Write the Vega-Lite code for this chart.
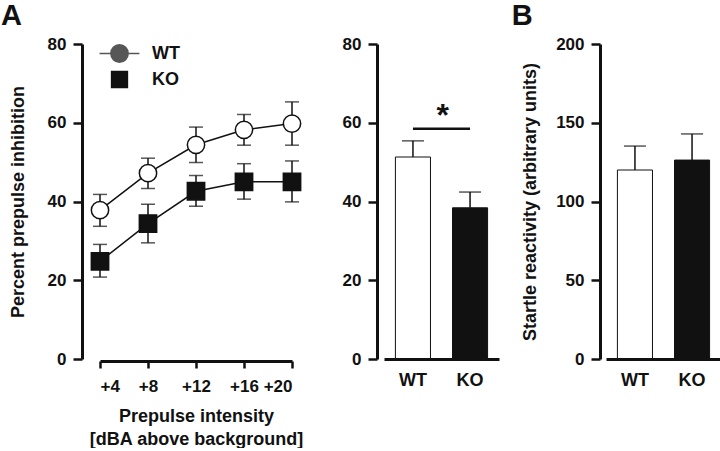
{
  "$schema": "https://vega.github.io/schema/vega-lite/v6.json",
  "background": "white",
  "padding": {"left": 1, "top": 2, "right": 0, "bottom": 0},
  "config": {
    "font": "Liberation Sans",
    "view": {"stroke": null},
    "axis": {
      "grid": false,
      "domainColor": "#111",
      "domainWidth": 3,
      "tickColor": "#111",
      "tickWidth": 2.5,
      "tickSize": 9,
      "labelFont": "Liberation Sans",
      "labelFontWeight": "bold",
      "labelFontSize": 17,
      "labelColor": "#111",
      "labelPadding": 7,
      "titleFont": "Liberation Sans",
      "titleFontWeight": "bold",
      "titleFontSize": 18,
      "titleColor": "#111"
    },
    "legend": {
      "title": null,
      "padding": 0,
      "symbolSize": 300,
      "symbolStrokeWidth": 1.5,
      "symbolStrokeColor": "#111",
      "rowPadding": 1,
      "labelOffset": 23,
      "labelFontSize": 18,
      "labelFontWeight": "bold",
      "labelColor": "#111",
      "labelFont": "Liberation Sans"
    },
    "title": {"font": "Liberation Sans", "fontWeight": "bold", "fontSize": 29, "color": "#111"}
  },
  "datasets": {
    "ppi": [
      {"group": "WT", "intensity": 4, "mean": 37.8, "lo": 33.7, "hi": 41.8},
      {"group": "WT", "intensity": 8, "mean": 47.2, "lo": 43.3, "hi": 51.0},
      {"group": "WT", "intensity": 12, "mean": 54.4, "lo": 49.9, "hi": 58.9},
      {"group": "WT", "intensity": 16, "mean": 58.2, "lo": 54.3, "hi": 62.1},
      {"group": "WT", "intensity": 20, "mean": 59.8, "lo": 54.3, "hi": 65.3},
      {"group": "KO", "intensity": 4, "mean": 24.8, "lo": 20.8, "hi": 29.1},
      {"group": "KO", "intensity": 8, "mean": 34.4, "lo": 29.5, "hi": 39.3},
      {"group": "KO", "intensity": 12, "mean": 42.6, "lo": 38.8, "hi": 46.6},
      {"group": "KO", "intensity": 16, "mean": 45.0, "lo": 40.6, "hi": 49.6},
      {"group": "KO", "intensity": 20, "mean": 45.0, "lo": 39.9, "hi": 50.3}
    ],
    "ppiMean": [
      {"group": "WT", "mean": 51.3, "hi": 55.4},
      {"group": "KO", "mean": 38.4, "hi": 42.4}
    ],
    "sig": [
      {"from": "WT", "to": "KO", "y": 58.5, "label": "*"}
    ],
    "startle": [
      {"group": "WT", "mean": 120.0, "hi": 135.2},
      {"group": "KO", "mean": 126.3, "hi": 142.9}
    ]
  },
  "bounds": "flush",
  "spacing": 92,
  "hconcat": [
    {
      "width": 192,
      "height": 315,
      "title": {"text": "A", "anchor": "start", "frame": "bounds", "dx": -8, "offset": 4},
      "data": {"name": "ppi"},
      "encoding": {
        "x": {
          "field": "intensity",
          "type": "quantitative",
          "scale": {"domain": [4, 20], "nice": false, "zero": false},
          "axis": {
            "values": [4, 8, 12, 16, 20],
            "labelExpr": "'+' + datum.value",
            "offset": 2,
            "tickSize": 7,
            "labelPadding": 10,
            "titlePadding": 13,
            "titleLineHeight": 23,
            "title": ["Prepulse intensity", "[dBA above background]"]
          }
        }
      },
      "layer": [
        {
          "mark": {
            "type": "errorbar",
            "ticks": {"size": 14, "thickness": 1.5, "color": "#111"},
            "rule": {"strokeWidth": 1.5, "color": "#111"}
          },
          "encoding": {
            "y": {
              "field": "lo",
              "type": "quantitative",
              "scale": {"domain": [0, 80], "nice": false},
              "axis": {"values": [0, 20, 40, 60, 80], "offset": 18, "title": "Percent prepulse inhibition", "titlePadding": 20}
            },
            "y2": {"field": "hi"}
          }
        },
        {
          "mark": {"type": "line", "color": "#111", "strokeWidth": 1.5},
          "encoding": {
            "y": {"field": "mean", "type": "quantitative"},
            "detail": {"field": "group"}
          }
        },
        {
          "mark": {"type": "point", "size": 300, "strokeWidth": 1.5},
          "encoding": {
            "y": {"field": "mean", "type": "quantitative"},
            "shape": {"condition": {"test": "datum.group === 'WT'", "value": "circle"}, "value": "square"},
            "fill": {"condition": {"test": "datum.group === 'WT'", "value": "white"}, "value": "#111"},
            "stroke": {
              "field": "group",
              "type": "nominal",
              "scale": {"domain": ["WT", "KO"], "range": ["#111", "#111"]},
              "legend": {
                "orient": "none",
                "legendX": 10,
                "legendY": 0,
                "values": ["WT"],
                "symbolType": "M-2.3,0L-1,0M-1,0C-1,-0.552,-0.552,-1,0,-1C0.552,-1,1,-0.552,1,0C1,0.552,0.552,1,0,1C-0.552,1,-1,0.552,-1,0ZM1,0L2.3,0",
                "symbolFillColor": "white",
                "encode": {"symbols": {"fill": {"value": "white"}, "fillOpacity": {"value": 1}}}
              }
            },
            "opacity": {
              "field": "group",
              "type": "nominal",
              "scale": {"domain": ["KO", "WT"], "range": [1, 1]},
              "legend": {
                "orient": "none",
                "legendX": 10,
                "legendY": 26,
                "values": ["KO"],
                "symbolType": "M-2.3,0L-1,0M-1,-1L1,-1L1,1L-1,1ZM1,0L2.3,0",
                "symbolFillColor": "#111",
                "encode": {"symbols": {"fill": {"value": "#111"}, "fillOpacity": {"value": 1}}}
              }
            }
          }
        }
      ]
    },
    {
      "bounds": "flush",
      "spacing": 107,
      "hconcat": [
        {
          "width": 115,
          "height": 315,
          "encoding": {
            "x": {
              "field": "group",
              "type": "nominal",
              "scale": {"domain": ["WT", "KO"], "paddingInner": 0.386, "paddingOuter": 0.2},
              "axis": {"title": null, "domain": true, "domainWidth": 3, "domainColor": "#111", "ticks": false, "labelAngle": 0, "labelFontSize": 18, "labelPadding": 12, "zindex": 1}
            }
          },
          "layer": [
            {
              "data": {"name": "ppiMean"},
              "mark": {"type": "bar", "stroke": "#111", "strokeWidth": 1},
              "encoding": {
                "y": {
                  "field": "mean",
                  "type": "quantitative",
                  "scale": {"domain": [0, 80], "nice": false},
                  "axis": {"values": [0, 20, 40, 60, 80], "offset": 7, "title": null}
                },
                "fill": {"condition": {"test": "datum.group === 'WT'", "value": "white"}, "value": "#111"}
              }
            },
            {
              "data": {"name": "ppiMean"},
              "mark": {"type": "rule", "strokeWidth": 1.5, "color": "#111"},
              "encoding": {
                "y": {"field": "mean", "type": "quantitative"},
                "y2": {"field": "hi"}
              }
            },
            {
              "data": {"name": "ppiMean"},
              "mark": {"type": "tick", "orient": "horizontal", "size": 22, "thickness": 1.5, "color": "#111"},
              "encoding": {
                "y": {"field": "hi", "type": "quantitative"}
              }
            },
            {
              "data": {"name": "sig"},
              "mark": {"type": "rule", "strokeWidth": 2.5, "color": "#111"},
              "encoding": {
                "x": {"field": "from", "type": "nominal"},
                "x2": {"field": "to"},
                "y": {"field": "y", "type": "quantitative"}
              }
            },
            {
              "data": {"name": "sig"},
              "mark": {"type": "text", "fontSize": 32, "fontWeight": "bold", "color": "#111", "baseline": "alphabetic", "align": "center", "dy": -3},
              "encoding": {
                "x": {"field": "from", "type": "nominal", "bandPosition": 1.35},
                "y": {"field": "y", "type": "quantitative"},
                "text": {"field": "label"}
              }
            }
          ]
        },
        {
          "width": 115,
          "height": 315,
          "title": {"text": "B", "anchor": "start", "frame": "bounds", "dx": -10, "offset": 4},
          "data": {"name": "startle"},
          "encoding": {
            "x": {
              "field": "group",
              "type": "nominal",
              "scale": {"domain": ["WT", "KO"], "paddingInner": 0.386, "paddingOuter": 0.2},
              "axis": {"title": null, "domain": true, "domainWidth": 3, "domainColor": "#111", "ticks": false, "labelAngle": 0, "labelFontSize": 18, "labelPadding": 12, "zindex": 1}
            }
          },
          "layer": [
            {
              "mark": {"type": "bar", "stroke": "#111", "strokeWidth": 1},
              "encoding": {
                "y": {
                  "field": "mean",
                  "type": "quantitative",
                  "scale": {"domain": [0, 200], "nice": false},
                  "axis": {"values": [0, 50, 100, 150, 200], "offset": 6, "title": "Startle reactivity (arbitrary units)", "titlePadding": 16}
                },
                "fill": {"condition": {"test": "datum.group === 'WT'", "value": "white"}, "value": "#111"}
              }
            },
            {
              "mark": {"type": "rule", "strokeWidth": 1.5, "color": "#111"},
              "encoding": {
                "y": {"field": "mean", "type": "quantitative"},
                "y2": {"field": "hi"}
              }
            },
            {
              "mark": {"type": "tick", "orient": "horizontal", "size": 22, "thickness": 1.5, "color": "#111"},
              "encoding": {
                "y": {"field": "hi", "type": "quantitative"}
              }
            }
          ]
        }
      ]
    }
  ]
}
